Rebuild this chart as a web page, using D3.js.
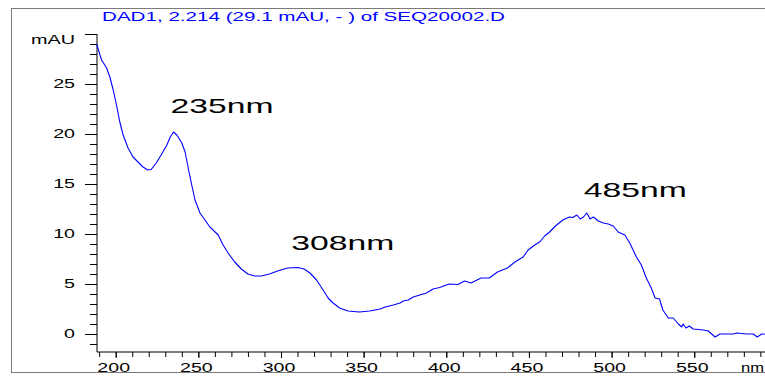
<!DOCTYPE html>
<html>
<head>
<meta charset="utf-8">
<script src="https://cdn.jsdelivr.net/npm/d3@7"></script>
<style>
  body { margin: 0; background: #fff; }
  svg { display: block; }
  text { font-family: "Liberation Sans", Arial, sans-serif; }
</style>
</head>
<body>
<div id="chart"></div>
<script>
const svgWidth = 765;
const svgHeight = 376;

const titleText = "DAD1, 2.214 (29.1 mAU, - ) of SEQ20002.D";

// spectrum: wavelength (nm) and absorbance (mAU)
const wavelengths = [
  188.5, 190.5, 191.5, 194.5, 196.5, 198.5, 200.5, 202.5, 204.5, 207.5,
  210.5, 213.5, 216.5, 219.5, 221.5, 224.5, 227.5, 231, 233, 235,
  237, 240, 242, 244, 246, 248, 251, 254, 257, 262,
  265, 268, 272, 276, 280, 284, 288, 293, 298, 304,
  310, 314, 317.5, 321.5, 325.5, 328.5, 331.5, 335.5, 340.5, 347.5,
  353.5, 360, 363, 368, 372, 374, 377, 380, 384, 388,
  392, 396, 400, 402, 407, 411, 415, 421, 426, 431,
  437, 441.5, 446.5, 449.5, 453.5, 456.5, 459.5, 462.5, 466, 470.5,
  474.5, 476.5, 479, 481, 483, 485, 487, 489, 492, 495,
  498, 501, 504, 508, 511, 515, 518, 521, 524, 526.3,
  529, 531, 534.3, 537.3, 540.4, 542.4, 543.3, 545, 547, 549.4,
  555.5, 558.5, 562.6, 565.6, 573.6, 575.7, 581.7, 585.7, 588.1, 590.8,
  593, 597
];
const absorbance = [
  29.0, 27.9, 27.4, 26.6, 25.7, 24.4, 22.9, 21.2, 19.9, 18.6,
  17.7, 17.2, 16.7, 16.4, 16.45, 17.1, 17.9, 18.9, 19.7, 20.2,
  19.9, 19.1, 18.2, 16.5, 14.9, 13.4, 12.1, 11.4, 10.7, 9.9,
  8.9, 8.1, 7.2, 6.5, 6.0, 5.8, 5.8, 6.0, 6.3, 6.6,
  6.65, 6.5, 6.1, 5.4, 4.4, 3.6, 3.1, 2.6, 2.3, 2.2,
  2.3, 2.5, 2.7, 2.9, 3.1, 3.3, 3.4, 3.7, 3.9, 4.1,
  4.5, 4.65, 4.9, 5.0, 4.95, 5.3, 5.1, 5.6, 5.6, 6.2,
  6.6, 7.2, 7.7, 8.4, 8.9, 9.2, 9.8, 10.2, 10.8, 11.4,
  11.7, 11.65, 11.9, 11.5, 11.7, 12.1, 11.5, 11.7, 11.3, 11.1,
  11.0, 10.8, 10.2, 9.9, 9.1, 7.7, 6.9, 5.6, 4.6, 3.6,
  3.5, 2.4, 1.6, 1.6, 1.0, 0.7, 1.0, 0.6, 0.8, 0.5,
  0.4, 0.3, -0.3, 0.0, 0.0, 0.1, 0.0, 0.0, -0.3, 0.0,
  0.0, 0.05
];

// peak labels
const peakLabels = ["235nm", "308nm", "485nm"];
const peakLabelNm = [235, 308, 485];
const peakLabelMAU = [22.1, 8.4, 13.7];

const xMajorTicks = [200, 250, 300, 350, 400, 450, 500, 550];
const yMajorTicks = [0, 5, 10, 15, 20, 25, 30];

const xScale = d3.scaleLinear().domain([188.7, 600]).range([97, 776.9]);
const yScale = d3.scaleLinear().domain([-1.8, 30]).range([352, 34]);

const svg = d3.select("#chart")
  .append("svg")
  .attr("width", svgWidth)
  .attr("height", svgHeight);

// outer frame
svg.append("rect")
  .attr("x", 11.5)
  .attr("y", 8.5)
  .attr("width", 800)
  .attr("height", 364)
  .attr("fill", "none")
  .attr("stroke", "#7a7a7a")
  .attr("stroke-width", 1);

svg.append("text")
  .attr("x", 102)
  .attr("y", 20.5)
  .attr("font-size", "13.5px")
  .attr("fill", "#0000ff")
  .attr("textLength", 403)
  .attr("lengthAdjust", "spacingAndGlyphs")
  .text(titleText);

const digitWidth = 10.9;

// y axis: minor ticks then major ticks with labels
svg.append("g")
  .attr("transform", "translate(97,0)")
  .call(d3.axisLeft(yScale).tickValues(d3.range(-1, 30, 1)).tickSize(7).tickFormat("").tickSizeOuter(0))
  .call((g) => g.select(".domain").remove())
  .call((g) => g.selectAll("line").attr("stroke", "#000"));

const yAxis = svg.append("g")
  .attr("transform", "translate(97,0)")
  .call(d3.axisLeft(yScale)
    .tickValues(yMajorTicks)
    .tickSize(12)
    .tickPadding(10)
    .tickSizeOuter(0)
    .tickFormat((d) => (d === 30 ? "mAU" : d)));

yAxis.select(".domain").attr("stroke", "#000").attr("d", `M0,${yScale(30)}V352`);
yAxis.selectAll("line").attr("stroke", "#000");
yAxis.selectAll("text")
  .attr("font-size", "12px")
  .attr("font-family", null)
  .attr("fill", "#000")
  .attr("dy", (d) => (d === 30 ? "0.78em" : "0.32em"))
  .attr("textLength", (d) => (d === 30 ? 44 : String(d).length * digitWidth))
  .attr("lengthAdjust", "spacingAndGlyphs");

// x axis
svg.append("g")
  .attr("transform", "translate(0,352)")
  .call(d3.axisBottom(xScale).tickValues(d3.range(190, 601, 10)).tickSize(5).tickFormat("").tickSizeOuter(0))
  .call((g) => g.select(".domain").remove())
  .call((g) => g.selectAll("line").attr("stroke", "#000"));

const xAxis = svg.append("g")
  .attr("transform", "translate(0,352)")
  .call(d3.axisBottom(xScale)
    .tickValues(xMajorTicks)
    .tickSize(6)
    .tickPadding(5)
    .tickSizeOuter(0));

xAxis.select(".domain").attr("stroke", "#000").attr("d", `M97,0H${svgWidth}`);
xAxis.selectAll("line").attr("stroke", "#000");
xAxis.selectAll("text")
  .attr("font-size", "12px")
  .attr("font-family", null)
  .attr("fill", "#000")
  .attr("x", -2.5)
  .attr("textLength", (d) => String(d).length * digitWidth)
  .attr("lengthAdjust", "spacingAndGlyphs");

svg.append("text")
  .attr("x", 741)
  .attr("y", 371.5)
  .attr("font-size", "12px")
  .attr("fill", "#000")
  .attr("textLength", 23)
  .attr("lengthAdjust", "spacingAndGlyphs")
  .text("nm");

// spectrum line
const spectrum = wavelengths.map((nm, i) => ({ nm, mau: absorbance[i] }));

svg.append("path")
  .datum(spectrum)
  .attr("fill", "none")
  .attr("stroke", "#0000ff")
  .attr("stroke-width", 1.1)
  .attr("stroke-linejoin", "round")
  .attr("d", d3.line().x((d) => xScale(d.nm)).y((d) => yScale(d.mau)));

// peak annotations
peakLabels.forEach((label, i) => {
  svg.append("text")
    .attr("x", xScale(peakLabelNm[i]) - 3)
    .attr("y", yScale(peakLabelMAU[i]))
    .attr("font-size", "21px")
    .attr("fill", "#000")
    .attr("textLength", 103)
    .attr("lengthAdjust", "spacingAndGlyphs")
    .text(label);
});
</script>
</body>
</html>
